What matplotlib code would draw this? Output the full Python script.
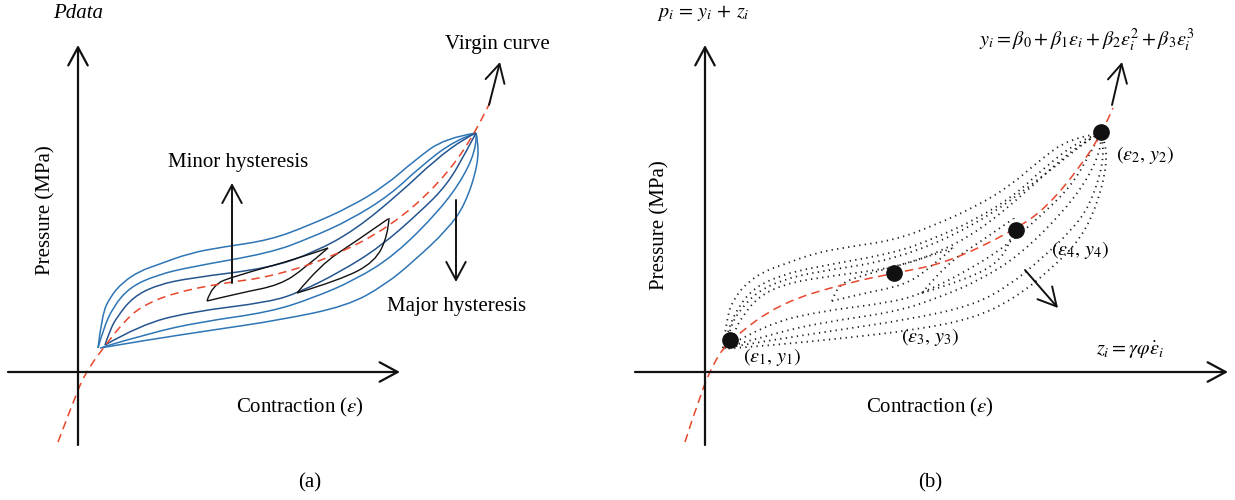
import numpy as np
import matplotlib.pyplot as plt
from matplotlib.path import Path
from matplotlib.patches import PathPatch

plt.rcParams['font.family'] = ['Liberation Serif', 'DejaVu Serif']
plt.rcParams['mathtext.fontset'] = 'stix'

W, H = 1235, 500
B_SHIFT = 625  # panel (b) reuses the loop family of panel (a), moved right

# virgin curves (red dashed), pixel coordinates
virgin_a = [(58, 442), (72, 405), (85, 373), (107, 343), (123, 323), (140, 307),
            (173, 293), (223, 283), (270, 277), (330, 258), (390, 227),
            (440, 183), (476, 133), (492, 98)]
virgin_b = [(685, 442), (700, 395), (715, 360), (730, 340), (780, 303),
            (847, 283), (895, 273), (947, 263), (1015, 230), (1047, 207),
            (1080, 167), (1102, 133), (1113, 108)]

# major hysteresis branches, outer to inner
upper_branches = [
    [(98, 348), (102, 315), (110, 297), (123, 282), (140, 271), (157, 265),
     (190, 253), (223, 247), (270, 240), (310, 225), (350, 207), (385, 186),
     (415, 160), (445, 138), (476, 133)],
    [(98, 348), (103, 330), (113, 307), (130, 287), (157, 275), (190, 267),
     (270, 253), (310, 238), (350, 220), (390, 195), (420, 167), (455, 140),
     (476, 133)],
    [(105, 345), (110, 330), (117, 317), (133, 297), (157, 285), (190, 278),
     (270, 268), (315, 252), (355, 230), (400, 193), (435, 160), (465, 138),
     (476, 133)],
]
lower_branches = [
    [(100, 348), (147, 340), (213, 330), (280, 320), (347, 306), (385, 285),
     (415, 260), (447, 230), (465, 205), (478, 165), (478, 140), (476, 133)],
    [(103, 347), (150, 333), (200, 322), (270, 312), (313, 298), (355, 280),
     (395, 255), (440, 210), (465, 175), (477, 145), (476, 133)],
    [(105, 345), (140, 325), (190, 312), (270, 302), (300, 292), (340, 272),
     (380, 247), (420, 212), (447, 185), (466, 152), (476, 133)],
]
upper_colors = ['#2e75b6', '#2e75b6', '#25558f']
lower_colors = ['#2e75b6', '#2e75b6', '#25558f']

# extra dotted branches only in panel (b)
extra_upper_b = [(100, 347), (106, 325), (115, 310), (132, 292), (157, 280),
                 (190, 272), (270, 260), (350, 226), (420, 175), (466, 137),
                 (476, 133)]
extra_lower_b = [(98, 349), (150, 345), (220, 338), (290, 330), (350, 318),
                 (390, 298), (425, 270), (455, 240), (472, 205), (482, 165),
                 (480, 140), (476, 133)]

# minor hysteresis loops
minor_loops = [
    ([(207, 301), (212, 285), (235, 276), (300, 258), (328, 248)],
     [(207, 301), (240, 293), (280, 285), (305, 268), (328, 248)]),
    ([(297, 293), (320, 265), (355, 242), (388, 219)],
     [(297, 293), (340, 280), (375, 262), (388, 235), (389, 218)]),
]

# sample points on the fitted curve in panel (b)
sample_x = [730, 894, 1016, 1101]
sample_y = [340, 273, 230, 132]
sample_labels = [r'$(\varepsilon_1,\, y_1)$', r'$(\varepsilon_3,\, y_3)$',
                 r'$(\varepsilon_4,\, y_4)$', r'$(\varepsilon_2,\, y_2)$']
sample_label_xy = [(772, 357), (930, 337), (1080, 250), (1145, 155)]

RED = '#e8472b'


def smooth_path(pts, dx=0):
    pts = np.asarray(pts, float) + [dx, 0]
    verts, codes = [pts[0]], [Path.MOVETO]
    if len(pts) == 2:
        return Path(pts, [Path.MOVETO, Path.LINETO])
    for i in range(1, len(pts) - 1):
        end = pts[i + 1] if i == len(pts) - 2 else (pts[i] + pts[i + 1]) / 2
        verts += [pts[i], end]
        codes += [Path.CURVE3, Path.CURVE3]
    return Path(verts, codes)


def curve(ax, pts, dx=0, **kw):
    ax.add_patch(PathPatch(smooth_path(pts, dx), fill=False, **kw))


def arrow(ax, start, end, lw=1.4):
    ax.annotate('', xy=end, xytext=start,
                arrowprops=dict(arrowstyle='->,head_length=1.3,head_width=0.7',
                                lw=lw, color='#111111', shrinkA=0, shrinkB=0,
                                mutation_scale=10))


fig = plt.figure(figsize=(W / 100, H / 100), dpi=100)
ax = fig.add_axes([0, 0, 1, 1])
ax.set_xlim(0, W)
ax.set_ylim(H, 0)
ax.axis('off')

red_kw = dict(color=RED, lw=1.1, linestyle=(0, (5.5, 3.5)))
fs = 15
ms = 14.5

# ---- panel (a) ----
arrow(ax, (8, 372), (400, 372), lw=1.6)
arrow(ax, (78, 445), (78, 45), lw=1.6)

for pts, c in zip(upper_branches, upper_colors):
    curve(ax, pts, edgecolor=c, lw=1.1)
for pts, c in zip(lower_branches, lower_colors):
    curve(ax, pts, edgecolor=c, lw=1.1)
for up, lo in minor_loops:
    curve(ax, up, edgecolor='#111111', lw=1.0)
    curve(ax, lo, edgecolor='#111111', lw=1.0)
curve(ax, virgin_a, **red_kw)

arrow(ax, (489, 105), (500, 62))
arrow(ax, (232, 283), (232, 183))
arrow(ax, (456, 200), (456, 282))

ax.text(78, 13, 'Pdata', style='italic', fontsize=fs, ha='center', va='center')
ax.text(497, 44, 'Virgin curve', fontsize=fs, ha='center', va='center')
ax.text(238, 163, 'Minor hysteresis', fontsize=fs, ha='center', va='center')
ax.text(457, 307, 'Major hysteresis', fontsize=fs, ha='center', va='center')
ax.text(46, 210, 'Pressure (MPa)', fontsize=fs, rotation=90, ha='center', va='center')
ax.text(300, 407, r'Contraction ($\varepsilon$)', fontsize=fs, ha='center', va='center')
ax.text(310, 483, '(a)', fontsize=fs, ha='center', va='center')

# ---- panel (b) ----
arrow(ax, (635, 372), (1228, 372), lw=1.6)
arrow(ax, (705, 445), (705, 45), lw=1.6)

dot_kw = dict(edgecolor='#1a1a1a', lw=1.3, linestyle=(0, (0.7, 2.4)))
for pts in upper_branches + lower_branches + [extra_upper_b, extra_lower_b]:
    curve(ax, pts, dx=B_SHIFT, **dot_kw)
for up, lo in minor_loops:
    curve(ax, up, dx=B_SHIFT, **dot_kw)
    curve(ax, lo, dx=B_SHIFT, **dot_kw)
curve(ax, virgin_b, **red_kw)

arrow(ax, (1112, 105), (1122, 62))
arrow(ax, (1025, 270), (1058, 308))

ax.plot(sample_x, sample_y, 'o', color='#111111', ms=11, zorder=5)
for lab, (x, y) in zip(sample_labels, sample_label_xy):
    ax.text(x, y, lab, fontsize=ms, ha='center', va='center')

ax.text(703, 13, r'$p_i\,=\,y_i\,+\,z_i$', fontsize=ms, ha='center', va='center')
ax.text(1087, 40, r'$y_i = \beta_0 + \beta_1\varepsilon_i + \beta_2\varepsilon_i^2 + \beta_3\varepsilon_i^3$',
        fontsize=ms, ha='center', va='center')
ax.text(1130, 350, r'$z_i = \gamma\varphi\dot{\varepsilon}_i$', fontsize=ms,
        ha='center', va='center')
ax.text(660, 225, 'Pressure (MPa)', fontsize=fs, rotation=90, ha='center', va='center')
ax.text(930, 407, r'Contraction ($\varepsilon$)', fontsize=fs, ha='center', va='center')
ax.text(930, 483, '(b)', fontsize=fs, ha='center', va='center')

fig.savefig('out.png', dpi=100)
